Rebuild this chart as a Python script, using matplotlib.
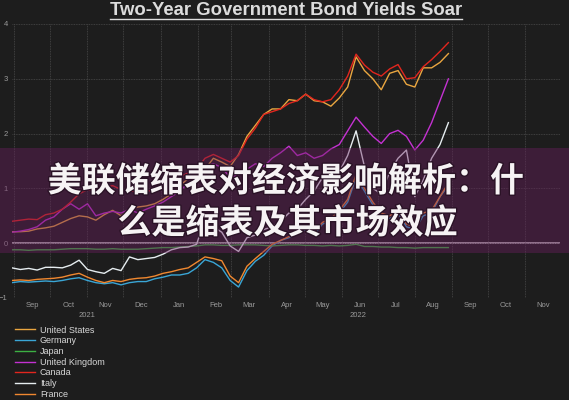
import pandas as pd
import matplotlib
matplotlib.use("Agg")
import matplotlib.pyplot as plt
import matplotlib.dates as mdates
import matplotlib.patheffects as pe
from matplotlib.patches import Rectangle
from matplotlib.lines import Line2D

# weekly readings, 2-year government bond yields (%)
dates = pd.date_range("2021-08-30", periods=53, freq="7D")

united_states = [0.21, 0.21, 0.22, 0.26, 0.28, 0.31, 0.38, 0.45, 0.50, 0.48,
                 0.42, 0.52, 0.60, 0.50, 0.62, 0.66, 0.68, 0.72, 0.80, 0.90,
                 1.05, 1.18, 1.20, 1.35, 1.55, 1.48, 1.40, 1.62, 1.95, 2.15,
                 2.35, 2.45, 2.45, 2.62, 2.60, 2.72, 2.60, 2.58, 2.50, 2.65,
                 2.85, 3.40, 3.15, 3.00, 2.80, 3.10, 3.15, 2.90, 2.85, 3.20,
                 3.20, 3.30, 3.46]
germany = [-0.72, -0.70, -0.71, -0.70, -0.69, -0.70, -0.68, -0.65, -0.63, -0.68,
           -0.72, -0.74, -0.72, -0.76, -0.72, -0.70, -0.70, -0.65, -0.62, -0.58,
           -0.58, -0.55, -0.45, -0.30, -0.35, -0.45, -0.68, -0.80, -0.50, -0.33,
           -0.22, -0.05, 0.05, 0.10, 0.18, 0.25, 0.15, 0.35, 0.40, 0.55,
           0.75, 1.20, 0.95, 0.70, 0.50, 0.45, 0.55, 0.30, 0.25, 0.50,
           0.55, 0.85, 1.05]
japan = [-0.12, -0.12, -0.13, -0.12, -0.12, -0.12, -0.11, -0.10, -0.10, -0.10,
         -0.11, -0.11, -0.10, -0.11, -0.11, -0.11, -0.10, -0.09, -0.08, -0.08,
         -0.07, -0.06, -0.05, -0.03, -0.03, -0.04, -0.04, -0.03, -0.03, -0.03,
         -0.04, -0.05, -0.04, -0.03, -0.03, -0.04, -0.04, -0.05, -0.04, -0.05,
         -0.04, -0.02, -0.06, -0.06, -0.07, -0.07, -0.08, -0.08, -0.09, -0.08,
         -0.08, -0.08, -0.08]
united_kingdom = [0.20, 0.22, 0.25, 0.30, 0.42, 0.48, 0.62, 0.72, 0.62, 0.72,
                  0.50, 0.55, 0.58, 0.55, 0.62, 0.55, 0.62, 0.68, 0.75, 0.85,
                  0.95, 1.10, 1.25, 1.40, 1.45, 1.38, 1.20, 1.25, 1.35, 1.45,
                  1.40, 1.55, 1.65, 1.77, 1.60, 1.65, 1.55, 1.60, 1.72, 1.80,
                  2.05, 2.30, 2.12, 1.95, 1.82, 2.00, 2.06, 1.95, 1.70, 1.88,
                  2.20, 2.60, 3.00]
canada = [0.40, 0.42, 0.44, 0.43, 0.52, 0.55, 0.62, 0.75, 0.90, 0.98,
          0.95, 1.02, 1.05, 0.98, 0.96, 0.93, 0.95, 0.97, 1.08, 1.15,
          1.22, 1.28, 1.35, 1.55, 1.62, 1.55, 1.48, 1.60, 1.90, 2.10,
          2.35, 2.40, 2.45, 2.55, 2.60, 2.72, 2.62, 2.58, 2.62, 2.80,
          3.05, 3.45, 3.25, 3.12, 3.05, 3.18, 3.26, 3.00, 3.02, 3.22,
          3.35, 3.50, 3.66]
italy = [-0.45, -0.48, -0.46, -0.49, -0.44, -0.44, -0.45, -0.40, -0.31, -0.48,
         -0.52, -0.55, -0.46, -0.50, -0.25, -0.30, -0.28, -0.26, -0.20, -0.12,
         -0.08, -0.07, -0.02, 0.45, 0.30, 0.20, -0.05, -0.15, 0.10, 0.15,
         0.25, 0.30, 0.40, 0.55, 0.62, 0.80, 0.95, 1.20, 1.35, 1.30,
         1.60, 2.05, 1.40, 1.00, 0.90, 1.30, 1.55, 1.70, 0.85, 1.15,
         1.55, 1.80, 2.20]
france = [-0.68, -0.67, -0.68, -0.66, -0.65, -0.64, -0.62, -0.58, -0.55, -0.62,
          -0.68, -0.72, -0.68, -0.70, -0.66, -0.64, -0.63, -0.60, -0.55, -0.52,
          -0.48, -0.45, -0.35, -0.25, -0.28, -0.32, -0.60, -0.72, -0.42, -0.28,
          -0.15, -0.02, 0.05, 0.12, 0.20, 0.28, 0.20, 0.38, 0.45, 0.60,
          0.80, 1.25, 1.00, 0.75, 0.55, 0.50, 0.60, 0.35, 0.30, 0.55,
          0.60, 0.85, 1.10]

series = [
    ("United States", united_states, "#eaa640"),
    ("Germany", germany, "#3aa6d6"),
    ("Japan", japan, "#3cb043"),
    ("United Kingdom", united_kingdom, "#c431d2"),
    ("Canada", canada, "#e2261e"),
    ("Italy", italy, "#e6edf0"),
    ("France", france, "#f08830"),
]

bg = "#1d1d1d"
plt.rcParams["font.family"] = ["Liberation Sans", "DejaVu Sans"]

fig = plt.figure(figsize=(5.69, 4.0), dpi=100, facecolor=bg)
ax = fig.add_axes([0.021, 0.255, 0.963, 0.685], facecolor=bg)

ax.axhline(0, color="#c9c9c9", lw=1.2, zorder=1)
for name, vals, col in series:
    ax.plot(dates, vals, color=col, lw=1.0, label=name, zorder=2)

ax.set_xlim(pd.Timestamp("2021-08-30"), pd.Timestamp("2022-11-30"))
ax.set_ylim(-1, 4)
ax.set_yticks([-1, 0, 1, 2, 3, 4])

ax.xaxis.set_major_locator(mdates.MonthLocator())
ax.xaxis.set_major_formatter(plt.NullFormatter())
ax.xaxis.set_minor_locator(mdates.MonthLocator(bymonthday=16))
ax.xaxis.set_minor_formatter(mdates.DateFormatter("%b"))
ax.tick_params(axis="x", which="both", length=0, colors="#9a9a9a", labelsize=5.5, pad=3)
ax.tick_params(axis="y", length=0, colors="#9a9a9a", labelsize=5.5, pad=3)
ax.grid(True, which="major", color="#4a4a4a", lw=0.6, ls=(0, (1, 1)))
for s in ax.spines.values():
    s.set_visible(False)

for label, day in [("2021", "2021-11-01"), ("2022", "2022-06-15")]:
    ax.text(pd.Timestamp(day), -0.065, label, transform=ax.get_xaxis_transform(),
            ha="center", va="center", fontsize=5.5, color="#9a9a9a")

leg = fig.legend(loc="upper left", bbox_to_anchor=(0.02, 0.195), frameon=False,
                 fontsize=6.5, handlelength=2.2, handletextpad=0.55,
                 labelspacing=0.19, borderaxespad=0)
for t in leg.get_texts():
    t.set_color("#d8d8d8")

title = fig.text(0.502, 0.974, "Two-Year Government Bond Yields Soar", ha="center",
                 va="center", fontsize=13.3, fontweight="bold", color="#dcdcdc")
fig.canvas.draw()
bb = title.get_window_extent().transformed(fig.transFigure.inverted())
fig.add_artist(Line2D([bb.x0, bb.x1], [bb.y0 + 0.001, bb.y0 + 0.001],
                      transform=fig.transFigure, color="#dcdcdc", lw=1.0))

# overlay banner
fig.add_artist(Rectangle((0, 0.3675), 1, 0.2625, transform=fig.transFigure,
                         facecolor="#6a1f5e", alpha=0.42, edgecolor="none", zorder=5))
cjk = ["Noto Sans CJK SC", "DejaVu Sans"]
fx = [pe.withStroke(linewidth=2, foreground="#2a1226")]
fig.text(0.502, 0.5475, "美联储缩表对经济影响解析：什", ha="center", va="center",
         fontsize=24.5, fontweight=900, family=cjk, color="#f6f3f4",
         path_effects=fx, zorder=6)
fig.text(0.505, 0.4425, "么是缩表及其市场效应", ha="center", va="center",
         fontsize=24.5, fontweight=900, family=cjk, color="#f6f3f4",
         path_effects=fx, zorder=6)

fig.savefig("out.png", dpi=100, facecolor=bg)
